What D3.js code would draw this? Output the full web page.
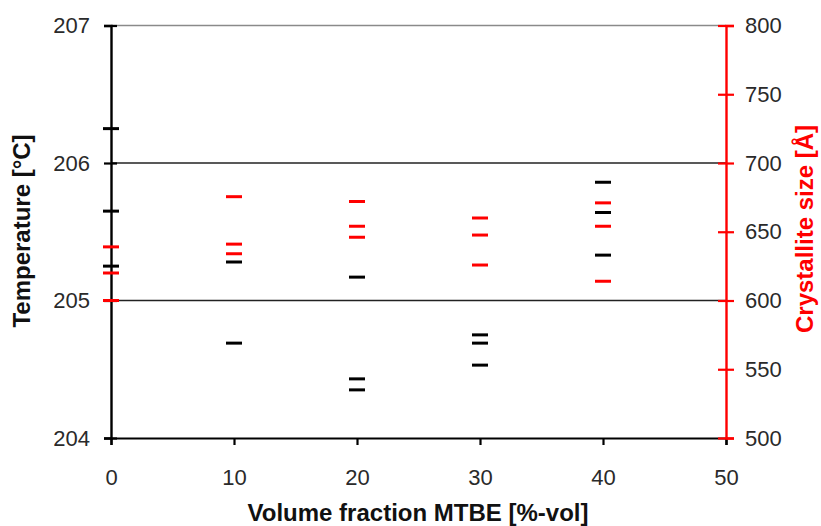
<!DOCTYPE html>
<html>
<head>
<meta charset="utf-8">
<script src="https://cdn.jsdelivr.net/npm/d3@7/dist/d3.min.js"></script>
<style>
  html, body { margin: 0; padding: 0; background: #fff; }
  svg { display: block; font-family: "Liberation Sans", Arial, sans-serif; }
</style>
</head>
<body>
<svg id="chart" width="821" height="526"></svg>
<script>
// Melting temperature measurements by MTBE volume fraction
const tempVolume = [0, 0, 0, 10, 10, 20, 20, 20, 30, 30, 30, 40, 40, 40];
const tempValues = [206.25, 205.65, 205.25, 205.28, 204.69, 205.17, 204.43, 204.35, 204.75, 204.69, 204.53, 205.86, 205.64, 205.33];

// Crystallite size measurements by MTBE volume fraction
const sizeVolume = [0, 0, 0, 10, 10, 10, 20, 20, 20, 30, 30, 30, 40, 40, 40];
const sizeValues = [639, 620, 600, 675.5, 641, 634, 672, 654, 646, 660, 647.6, 625.8, 671, 654, 614];

const xTicks = [0, 10, 20, 30, 40, 50];
const tempTicks = [204, 205, 206, 207];
const sizeTicks = [500, 550, 600, 650, 700, 750, 800];

const margin = { left: 111, right: 726, top: 25.5, bottom: 438 };
const svg = d3.select("#chart");

const x = d3.scaleLinear().domain([0, 50]).range([margin.left, margin.right]);
const yT = d3.scaleLinear().domain([204, 207]).range([margin.bottom, margin.top]);
const yS = d3.scaleLinear().domain([500, 800]).range([margin.bottom, margin.top]);

const tickFont = "Liberation Sans, Arial, sans-serif";

// horizontal gridlines
svg.append("g").selectAll("line")
  .data(tempTicks.filter(d => d > 204))
  .join("line")
  .attr("x1", margin.left).attr("x2", margin.right)
  .attr("y1", d => yT(d)).attr("y2", d => yT(d))
  .attr("stroke", d => d === 207 ? "#8a8a8a" : "#222")
  .attr("stroke-width", 1.4);

// bottom axis
const gx = svg.append("g")
  .attr("transform", `translate(0,${margin.bottom})`)
  .call(d3.axisBottom(x).tickValues(xTicks).tickSize(7).tickPadding(24).tickFormat(d3.format("d")));
gx.select(".domain").attr("stroke", "#000").attr("stroke-width", 2.2);
gx.selectAll(".tick line").attr("stroke", "#000").attr("stroke-width", 2.2);
gx.selectAll(".tick text").attr("font-size", 22).attr("fill", "#2a2a2a").attr("font-family", tickFont);

// left axis (temperature), ticks crossing the axis line
const gl = svg.append("g")
  .attr("transform", `translate(${margin.left},0)`)
  .call(d3.axisLeft(yT).tickValues(tempTicks).tickSize(7).tickPadding(14).tickFormat(d3.format("d")));
gl.select(".domain").attr("stroke", "#000").attr("stroke-width", 2.4);
gl.selectAll(".tick line").attr("x1", 6).attr("stroke", "#000").attr("stroke-width", 2.2);
gl.selectAll(".tick text").attr("font-size", 22).attr("fill", "#2a2a2a").attr("font-family", tickFont);

// right axis (crystallite size), ticks crossing the axis line
const gr = svg.append("g")
  .attr("transform", `translate(${margin.right},0)`)
  .call(d3.axisRight(yS).tickValues(sizeTicks).tickSize(8).tickPadding(11).tickFormat(d3.format("d")));
gr.select(".domain").attr("stroke", "#ff0000").attr("stroke-width", 2.4);
gr.selectAll(".tick line").attr("x1", -8).attr("stroke", "#ff0000").attr("stroke-width", 2.2);
gr.selectAll(".tick text").attr("font-size", 22).attr("fill", "#2a2a2a").attr("font-family", tickFont);

const dashHalf = 8;

// temperature markers
svg.append("g").selectAll("line")
  .data(tempValues.map((v, i) => ({ v, t: tempVolume[i] })))
  .join("line")
  .attr("x1", d => x(d.t) - dashHalf).attr("x2", d => x(d.t) + dashHalf)
  .attr("y1", d => yT(d.v)).attr("y2", d => yT(d.v))
  .attr("stroke", "#000").attr("stroke-width", 3);

// crystallite size markers
svg.append("g").selectAll("line")
  .data(sizeValues.map((v, i) => ({ v, t: sizeVolume[i] })))
  .join("line")
  .attr("x1", d => x(d.t) - dashHalf).attr("x2", d => x(d.t) + dashHalf)
  .attr("y1", d => yS(d.v)).attr("y2", d => yS(d.v))
  .attr("stroke", "#ff0000").attr("stroke-width", 3);

// axis titles
svg.append("text")
  .attr("x", 418).attr("y", 521)
  .attr("text-anchor", "middle")
  .attr("font-size", 24).attr("font-weight", "bold").attr("fill", "#111")
  .text("Volume fraction MTBE [%-vol]");

svg.append("text")
  .attr("transform", "translate(30,231) rotate(-90)")
  .attr("text-anchor", "middle")
  .attr("font-size", 24).attr("font-weight", "bold").attr("fill", "#111")
  .text("Temperature [°C]");

svg.append("text")
  .attr("transform", "translate(813,229) rotate(-90)")
  .attr("text-anchor", "middle")
  .attr("font-size", 24).attr("font-weight", "bold").attr("fill", "#ff0000")
  .text("Crystallite size [Å]");
</script>
</body>
</html>
